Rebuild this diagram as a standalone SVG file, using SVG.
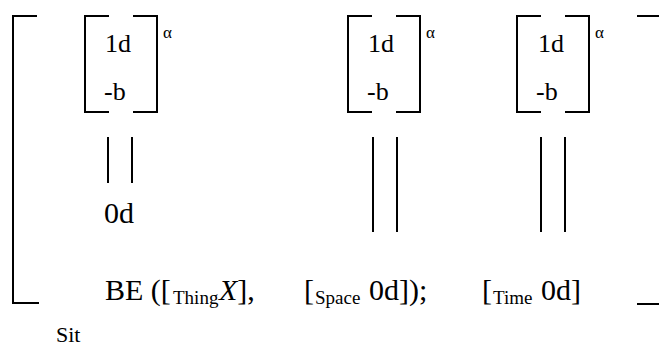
<svg xmlns="http://www.w3.org/2000/svg" width="659" height="347" viewBox="0 0 659 347">
<defs>
<style>
text{font-family:"Liberation Serif","Times New Roman",serif}
</style>
</defs>
<rect width="659" height="347" fill="#fff"/>
<g id="outer-bracket" stroke="#000" stroke-width="2" fill="none">
<path d="M37 16H13V303H39"/>
<path d="M637 16H659M637 304H659"/>
</g>
<g id="feature-1" font-family="Liberation Serif, Times New Roman, serif" fill="#000">
<path stroke="#000" stroke-width="2" fill="none" d="M109 16H85V112H109M133 16H157V112H133"/>
<text font-size="26" x="105" y="52">1d</text>
<text font-size="26" x="104" y="100">-b</text>
<text font-size="17" x="163" y="38">α</text>
</g>
<g id="feature-2" font-family="Liberation Serif, Times New Roman, serif" fill="#000">
<path stroke="#000" stroke-width="2" fill="none" d="M372 16H348V112H372M396 16H420V112H396"/>
<text font-size="26" x="368" y="52">1d</text>
<text font-size="26" x="367" y="100">-b</text>
<text font-size="17" x="426" y="38">α</text>
</g>
<g id="feature-3" font-family="Liberation Serif, Times New Roman, serif" fill="#000">
<path stroke="#000" stroke-width="2" fill="none" d="M541 16H517V112H541M565 16H589V112H565"/>
<text font-size="26" x="538" y="52">1d</text>
<text font-size="26" x="536" y="100">-b</text>
<text font-size="17" x="595" y="38">α</text>
</g>
<g id="connectors" stroke="#000" stroke-width="2" fill="none">
<path d="M108 137V183M132 137V183"/>
<path d="M373 137V232M397 137V232"/>
<path d="M541 137V232M565 137V232"/>
</g>
<g id="zero" font-family="Liberation Serif, Times New Roman, serif" fill="#000">
<text font-size="30" x="104" y="223">0d</text>
</g>
<g id="formula" font-family="Liberation Serif, Times New Roman, serif" fill="#000">
<text font-size="30" x="105" y="300">BE ([</text>
<text font-size="19" x="173" y="304">Thing</text>
<text font-size="30" x="219" y="300"><tspan font-style="italic">X</tspan>],</text>
<text font-size="30" x="304" y="300">[</text>
<text font-size="19" x="315" y="304">Space</text>
<text font-size="30" x="369" y="300">0d]);</text>
<text font-size="30" x="482" y="300">[</text>
<text font-size="19" x="493" y="304">Time</text>
<text font-size="30" x="541" y="300">0d]</text>
</g>
<g id="sit" font-family="Liberation Serif, Times New Roman, serif" fill="#000">
<text font-size="22" x="56" y="342">Sit</text>
</g>
</svg>
